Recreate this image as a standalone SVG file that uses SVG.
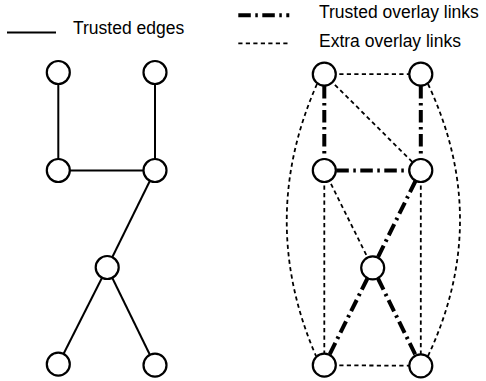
<svg xmlns="http://www.w3.org/2000/svg" width="486" height="381" viewBox="0 0 486 381">
<style>
.node{fill:#fff;stroke:#000;stroke-width:2.2}
.edge{fill:none;stroke:#000;stroke-width:2}
.trusted{fill:none;stroke:#000;stroke-width:4;stroke-dasharray:12.5 4.5 2.5 4.5}
.extra{fill:none;stroke:#000;stroke-width:1.8;stroke-dasharray:4.2 3.3}
.lbl{font-family:"Liberation Sans",Arial,sans-serif;font-size:17.5px;fill:#000}
</style>
<rect width="486" height="381" fill="#fff"/>
<g id="legend">
  <line class="edge" x1="7" y1="32.5" x2="56" y2="32.5"/>
  <text class="lbl" x="73" y="34">Trusted edges</text>
  <line class="trusted" x1="238.3" y1="15.3" x2="289.3" y2="15.3"/>
  <text class="lbl" x="319" y="18.3">Trusted overlay links</text>
  <line class="extra" x1="238.3" y1="43.3" x2="290" y2="43.3"/>
  <text class="lbl" x="319" y="46.7">Extra overlay links</text>
</g>
<g id="connectors">
  <line class="edge" x1="58.3" y1="72.5" x2="58.3" y2="170.5"/>
  <line class="edge" x1="155" y1="72.5" x2="155" y2="170.5"/>
  <line class="edge" x1="58.3" y1="170.5" x2="155" y2="170.5"/>
  <line class="edge" x1="155" y1="170.5" x2="107.2" y2="267.5"/>
  <line class="edge" x1="107.2" y1="267.5" x2="58.3" y2="364.2"/>
  <line class="edge" x1="107.2" y1="267.5" x2="155" y2="365.2"/>
  <line class="extra" x1="324.3" y1="74.2" x2="420.8" y2="74.2"/>
  <line class="extra" x1="324.3" y1="74.2" x2="420.8" y2="170.5"/>
  <line class="extra" x1="324.3" y1="170.5" x2="372.7" y2="267.8"/>
  <line class="extra" x1="324.3" y1="170.5" x2="324.3" y2="365.2"/>
  <line class="extra" x1="420.8" y1="170.5" x2="420.8" y2="365.8"/>
  <line class="extra" x1="324.3" y1="365.2" x2="420.8" y2="365.8"/>
  <path class="extra" d="M317 84 Q257 220 316 356"/>
  <path class="extra" d="M428 84 Q492 220 428 356"/>
  <line class="trusted" x1="324.3" y1="86" x2="324.3" y2="158.5"/>
  <line class="trusted" x1="420.8" y1="86" x2="420.8" y2="158.5"/>
  <line class="trusted" x1="336.3" y1="170.5" x2="408.8" y2="170.5"/>
  <line class="trusted" x1="415.5" y1="181" x2="378" y2="257"/>
  <line class="trusted" x1="367.4" y1="278.5" x2="329.6" y2="354.5"/>
  <line class="trusted" x1="378" y1="278.5" x2="415.5" y2="355"/>
</g>
<g id="n1"><circle class="node" cx="58.3" cy="72.5" r="11.5"/></g>
<g id="n2"><circle class="node" cx="155" cy="72.5" r="11.5"/></g>
<g id="n3"><circle class="node" cx="58.3" cy="170.5" r="11.5"/></g>
<g id="n4"><circle class="node" cx="155" cy="170.5" r="11.5"/></g>
<g id="n5"><circle class="node" cx="107.2" cy="267.5" r="11.5"/></g>
<g id="n6"><circle class="node" cx="58.3" cy="364.2" r="11.5"/></g>
<g id="n7"><circle class="node" cx="155" cy="365.2" r="11.5"/></g>
<g id="m1"><circle class="node" cx="324.3" cy="74.2" r="11.5"/></g>
<g id="m2"><circle class="node" cx="420.8" cy="74.2" r="11.5"/></g>
<g id="m3"><circle class="node" cx="324.3" cy="170.5" r="11.5"/></g>
<g id="m4"><circle class="node" cx="420.8" cy="170.5" r="11.5"/></g>
<g id="m5"><circle class="node" cx="372.7" cy="267.8" r="11.5"/></g>
<g id="m6"><circle class="node" cx="324.3" cy="365.2" r="11.5"/></g>
<g id="m7"><circle class="node" cx="420.8" cy="365.8" r="11.5"/></g>
</svg>
